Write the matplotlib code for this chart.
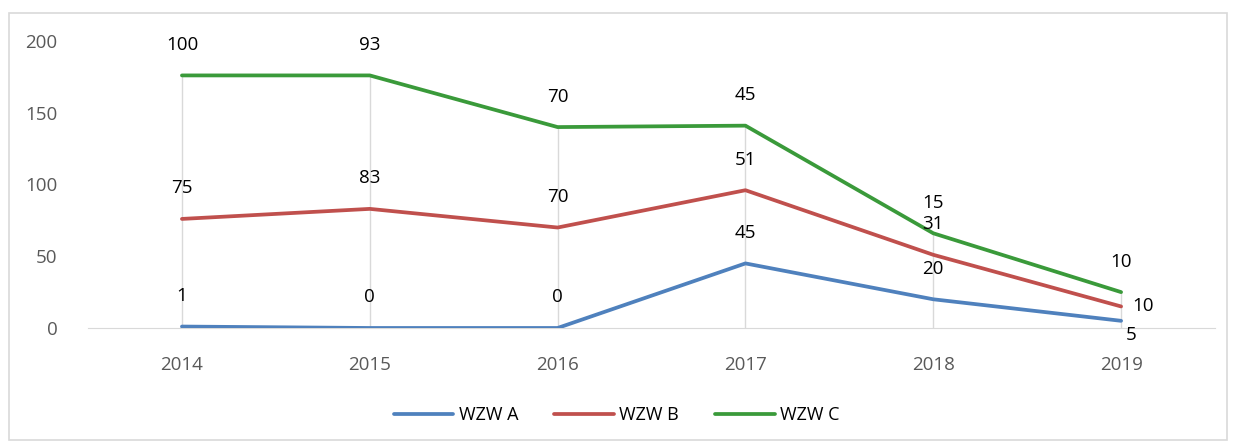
import matplotlib
matplotlib.use('Agg')
import matplotlib.pyplot as plt
from matplotlib.patches import Rectangle
import numpy as np

years = ['2014', '2015', '2016', '2017', '2018', '2019']
wzw_a = [1, 0, 0, 45, 20, 5]
wzw_b = [75, 83, 70, 51, 31, 10]
wzw_c = [100, 93, 70, 45, 15, 10]
names = ['WZW A', 'WZW B', 'WZW C']
colors = ['#4F81BD', '#C0504D', '#3A9A3A']

plt.rcParams['font.family'] = ['Open Sans', 'DejaVu Sans']

fig = plt.figure(figsize=(12.33, 4.44), dpi=100)
fig.patches.append(Rectangle((0.007, 0.01), 0.988, 0.96, transform=fig.transFigure,
                             fill=False, edgecolor='#D9D9D9', linewidth=1.2))
ax = fig.add_axes([0.0714, 0.2613, 0.914, 0.6464])

x = np.arange(len(years))
series = [np.array(wzw_a), np.array(wzw_b), np.array(wzw_c)]
stacked = np.cumsum(series, axis=0)

# drop lines from top series
ax.vlines(x, 0, stacked[-1], color='#D9D9D9', linewidth=1, zorder=1)

for i in range(3):
    ax.plot(x, stacked[i], color=colors[i], linewidth=2.7, label=names[i],
            solid_capstyle='round', zorder=3)
    for j in range(len(x)):
        dx, dy = 0, 22
        if j == len(x) - 1 and i == 1:
            dx, dy = 16, 0
        if j == len(x) - 1 and i == 0:
            dx, dy = 7, -10
        ax.annotate(str(series[i][j]), (x[j], stacked[i][j]), xytext=(dx, dy),
                    textcoords='offset points', ha='center', va='center',
                    fontsize=13.5, color='black', zorder=4)

ax.set_xlim(-0.5, 5.5)
ax.set_ylim(0, 200)
ax.set_yticks([0, 50, 100, 150, 200])
ax.set_xticks(x)
ax.set_xticklabels(years)
for s in ['top', 'right', 'left']:
    ax.spines[s].set_visible(False)
ax.spines['bottom'].set_color('#D9D9D9')
ax.tick_params(axis='both', length=0, labelsize=13.5, labelcolor='#595959')
ax.tick_params(axis='y', pad=22)
ax.tick_params(axis='x', pad=20)

fig.legend(loc='center', bbox_to_anchor=(0.5, 0.065), ncol=3, frameon=False,
           fontsize=13, handlelength=3.3, columnspacing=2.0, handletextpad=0.3)

fig.savefig('out.png', dpi=100)
